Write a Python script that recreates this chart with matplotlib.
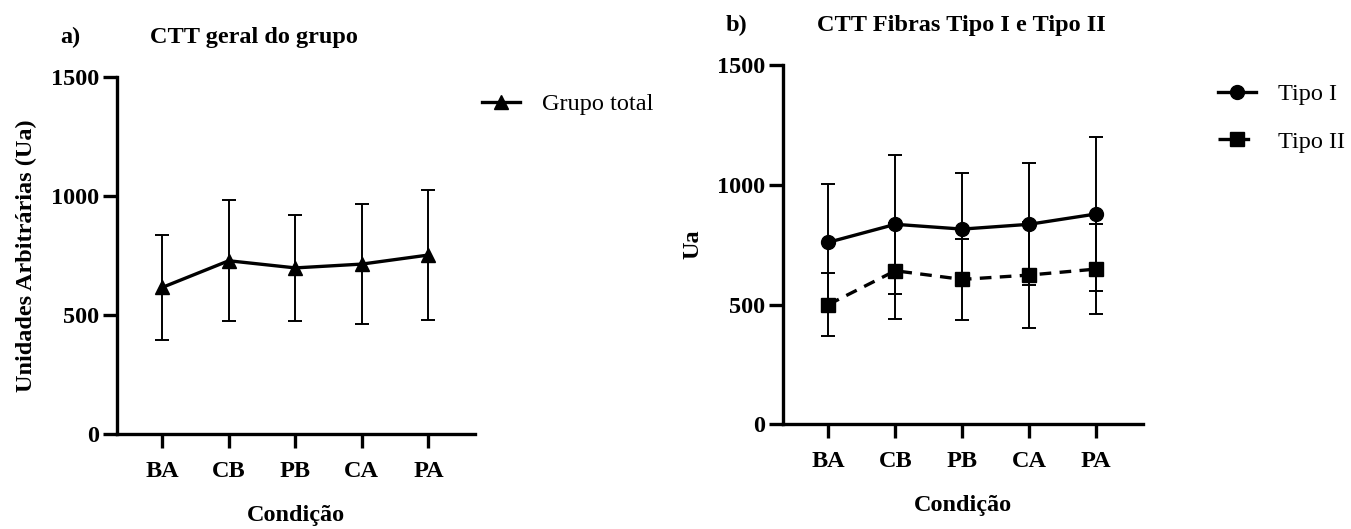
import matplotlib
matplotlib.use("Agg")
import matplotlib.pyplot as plt
import numpy as np

plt.rcParams['font.family'] = ['Liberation Serif', 'DejaVu Serif']

condicoes = ['BA', 'CB', 'PB', 'CA', 'PA']

# a) grupo total (media e DP)
total_media = [616, 728, 698, 714, 752]
total_dp = [222, 253, 222, 253, 272]

# b) fibras tipo I e tipo II
tipo1_media = [760, 835, 815, 835, 878]
tipo1_dp = [242, 289, 234, 254, 323]
tipo2_media = [500, 641, 605, 623, 648]
tipo2_dp = [130, 201, 170, 220, 188]

yticks = [0, 500, 1000, 1500]

FS = 17.5

fig = plt.figure(figsize=(13.51, 5.29), dpi=100)
ax1 = fig.add_axes([0.0868, 0.179, 0.2648, 0.676])
ax2 = fig.add_axes([0.5798, 0.198, 0.266, 0.679])

x = np.arange(len(condicoes))


def estilo(ax):
    ax.set_xlim(-0.675, 4.7)
    ax.set_ylim(0, 1500)
    ax.set_yticks(yticks)
    ax.set_xticks(x)
    ax.set_xticklabels(condicoes)
    for s in ['top', 'right']:
        ax.spines[s].set_visible(False)
    for s in ['left', 'bottom']:
        ax.spines[s].set_linewidth(2.4)
    ax.tick_params(axis='both', width=2.4, length=10, labelsize=FS, pad=3)
    ax.tick_params(axis='x', pad=9)
    for lab in ax.get_xticklabels() + ax.get_yticklabels():
        lab.set_fontweight('bold')


# painel a
ax1.errorbar(x, total_media, yerr=total_dp, fmt='none', ecolor='black',
             elinewidth=1.4, capsize=5, capthick=1.4, zorder=2)
ax1.plot(x, total_media, color='black', lw=2.4, marker='^', ms=10,
         label='Grupo total', zorder=3)
estilo(ax1)
ax1.set_ylabel('Unidades Arbitrárias (Ua)', fontsize=FS, fontweight='bold', labelpad=10)
ax1.set_xlabel('Condição', fontsize=FS, fontweight='bold', labelpad=17)
ax1.legend(loc='upper left', bbox_to_anchor=(482 / 1351, 1 - 93 / 529),
           bbox_transform=fig.transFigure, frameon=False, fontsize=FS,
           handlelength=1.55, handletextpad=0.9, borderpad=0, borderaxespad=0)
fig.text(60 / 1351, 1 - 37 / 529, 'a)', fontsize=FS, fontweight='bold', va='center')
fig.text(150 / 1351, 1 - 37 / 529, 'CTT geral do grupo', fontsize=FS,
         fontweight='bold', va='center')

# painel b
ax2.errorbar(x, tipo1_media, yerr=tipo1_dp, fmt='none', ecolor='black',
             elinewidth=1.4, capsize=5, capthick=1.4, zorder=2)
ax2.errorbar(x, tipo2_media, yerr=tipo2_dp, fmt='none', ecolor='black',
             elinewidth=1.4, capsize=5, capthick=1.4, zorder=2)
ax2.plot(x, tipo1_media, color='black', lw=2.4, marker='o', ms=10,
         label='Tipo I', zorder=3)
ax2.plot(x, tipo2_media, color='black', lw=2.4, ls=(0, (3.5, 2.5)), marker='s',
         ms=9.5, label='Tipo II', zorder=3)
estilo(ax2)
ax2.set_ylabel('Ua', fontsize=FS, fontweight='bold', labelpad=10)
ax2.set_xlabel('Condição', fontsize=FS, fontweight='bold', labelpad=17)
ax2.legend(loc='upper left', bbox_to_anchor=(1218 / 1351, 1 - 83 / 529),
           bbox_transform=fig.transFigure, frameon=False, fontsize=FS,
           handlelength=1.55, handletextpad=0.9, labelspacing=1.05,
           borderpad=0, borderaxespad=0)
fig.text(726 / 1351, 1 - 25 / 529, 'b)', fontsize=FS, fontweight='bold', va='center')
fig.text(817 / 1351, 1 - 25 / 529, 'CTT Fibras Tipo I e Tipo II', fontsize=FS,
         fontweight='bold', va='center')

fig.savefig('out.png', dpi=100)
